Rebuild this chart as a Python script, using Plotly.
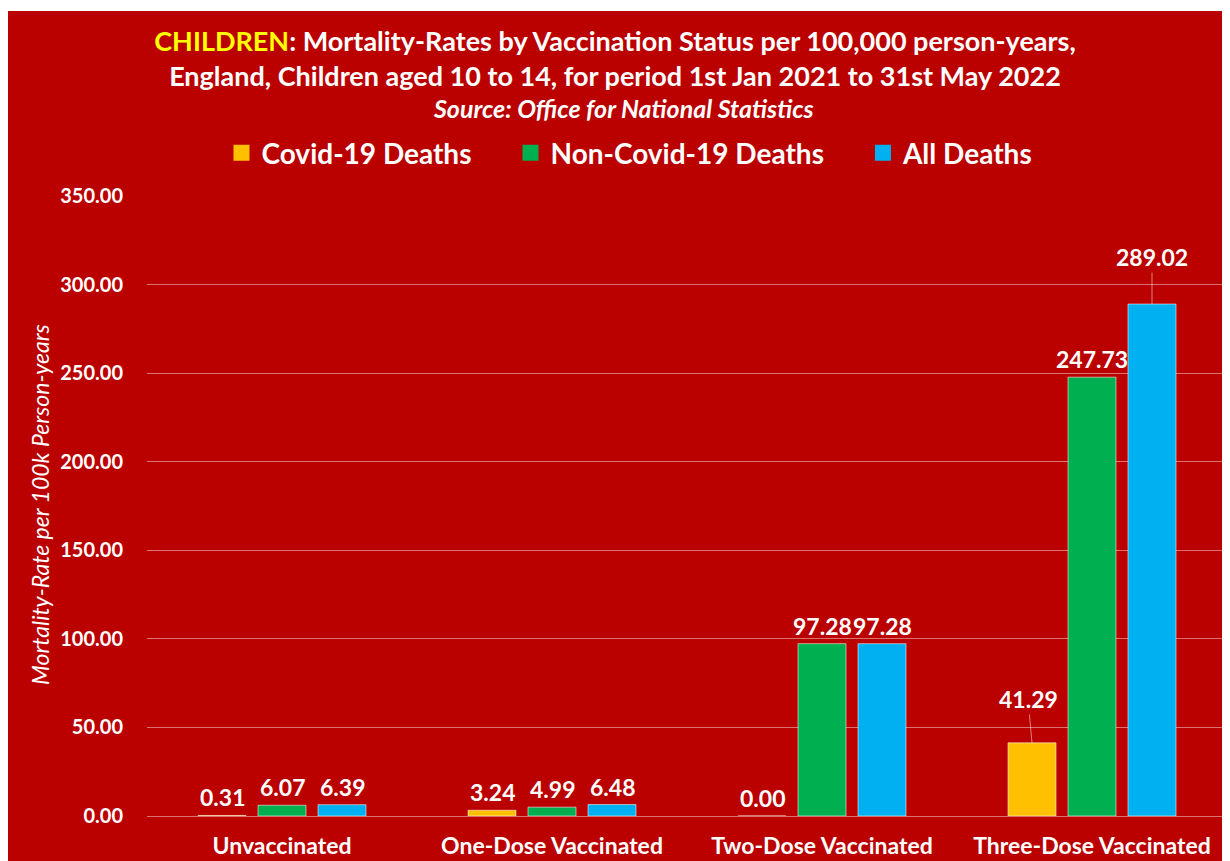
import plotly.graph_objects as go

categories = ["Unvaccinated", "One-Dose Vaccinated", "Two-Dose Vaccinated", "Three-Dose Vaccinated"]
covid_deaths = [0.31, 3.24, 0.00, 41.29]
non_covid_deaths = [6.07, 4.99, 97.28, 247.73]
all_deaths = [6.39, 6.48, 97.28, 289.02]
series_names = ["Covid-19 Deaths", "Non-Covid-19 Deaths", "All Deaths"]
y_ticks = [0, 50, 100, 150, 200, 250, 300, 350]

colors = ["#FFC000", "#00B050", "#00B0F0"]
BG = "#BB0000"
FONT = "Lato"
W, H = 1230, 861
OFF = 8  # page body margin offset of the figure
ML, MR, MT, MB = 139, 11, 188, 53
PW, PH = W - ML - MR, H - MT - MB


def px2paper(px):
    return (px - OFF - ML) / PW


def py2paper(py):
    return (H - MB - (py - OFF)) / PH


series_values = [covid_deaths, non_covid_deaths, all_deaths]

fig = go.Figure()
for name, vals, col in zip(series_names, series_values, colors):
    fig.add_trace(go.Bar(
        x=categories, y=vals, name=name, showlegend=False,
        marker=dict(color=col, line=dict(color="rgba(255,255,255,0.55)", width=1)),
    ))
# legend entries with larger square swatches
pad = "\u00a0" * 5
for i, (name, col) in enumerate(zip(series_names, colors)):
    fig.add_trace(go.Scatter(
        x=[None], y=[None], mode="markers",
        name=name + (pad if i < len(series_names) - 1 else ""),
        marker=dict(symbol="square", size=18, color=col),
    ))

# value labels
offsets = [-60, 0, 60]
leaders = {(2, 3): (0, -47), (0, 3): (-4, -44)}
annotations = []
for si, vals in enumerate(series_values):
    for ci, v in enumerate(vals):
        common = dict(x=categories[ci], y=v, xref="x", yref="y", text=f"{v:.2f}",
                      font=dict(family=FONT, size=23, color="white", weight="bold"),
                      xshift=offsets[si])
        if (si, ci) in leaders:
            ax, ay = leaders[(si, ci)]
            annotations.append(dict(**common, showarrow=True, arrowhead=0, arrowwidth=1,
                                    arrowcolor="rgba(255,255,255,0.5)", ax=ax, ay=ay,
                                    standoff=0))
        else:
            annotations.append(dict(**common, showarrow=False, yanchor="bottom", yshift=2))

annotations.append(dict(
    text="<i>Source: Office for National Statistics</i>", x=px2paper(623), y=py2paper(108),
    xref="paper", yref="paper", showarrow=False, xanchor="center", yanchor="middle",
    font=dict(family=FONT, size=25, color="white", weight="bold")))
annotations.append(dict(
    text="<i>Mortality-Rate per 100k Person-years</i>", x=px2paper(40), y=py2paper(505),
    xref="paper", yref="paper", showarrow=False, textangle=-90, xanchor="center", yanchor="middle",
    font=dict(family=FONT, size=23, color="white")))

shapes = [
    dict(type="rect", xref="paper", yref="paper", layer="above",
         x0=px2paper(0), x1=px2paper(W + 20), y0=py2paper(11), y1=py2paper(0),
         fillcolor="white", line=dict(width=0)),
]

fig.update_layout(
    width=W, height=H,
    margin=dict(l=ML, r=MR, t=MT, b=MB, autoexpand=False),
    paper_bgcolor=BG, plot_bgcolor=BG,
    barmode="group", bargap=1 / 3, bargroupgap=0.2,
    title=dict(
        text='<span style="color:#FFFF00">CHILDREN</span>: Mortality-Rates by Vaccination Status per 100,000 person-years,<br>England, Children aged 10 to 14, for period 1st Jan 2021 to 31st May 2022',
        x=(615 - OFF) / W, xref="container", xanchor="center",
        y=1 - 43 / H, yref="container", yanchor="top",
        font=dict(family=FONT, size=27, color="white", weight="bold"),
    ),
    legend=dict(orientation="h", x=px2paper(630), xanchor="center", y=py2paper(153), yanchor="middle",
                font=dict(family=FONT, size=28, color="white", weight="bold"),
                bgcolor="rgba(0,0,0,0)", traceorder="normal", itemwidth=30),
    xaxis=dict(showgrid=False, showline=False, zeroline=False, ticks="",
               ticklabelstandoff=14, automargin=False,
               tickfont=dict(family=FONT, size=23, color="white", weight="bold"),
               range=[-0.5, 3.5]),
    yaxis=dict(range=[0, 350], tickvals=y_ticks, tickformat=".2f", automargin=False,
               showgrid=True, gridcolor="rgba(255,255,255,0.45)", gridwidth=1,
               zeroline=True, zerolinecolor="rgba(255,255,255,0.45)", zerolinewidth=1,
               showline=False, ticks="", ticklabelstandoff=23,
               tickfont=dict(family=FONT, size=20, color="white", weight="bold")),
    annotations=annotations,
    shapes=shapes,
    showlegend=True,
)

fig.write_html("out.html")
